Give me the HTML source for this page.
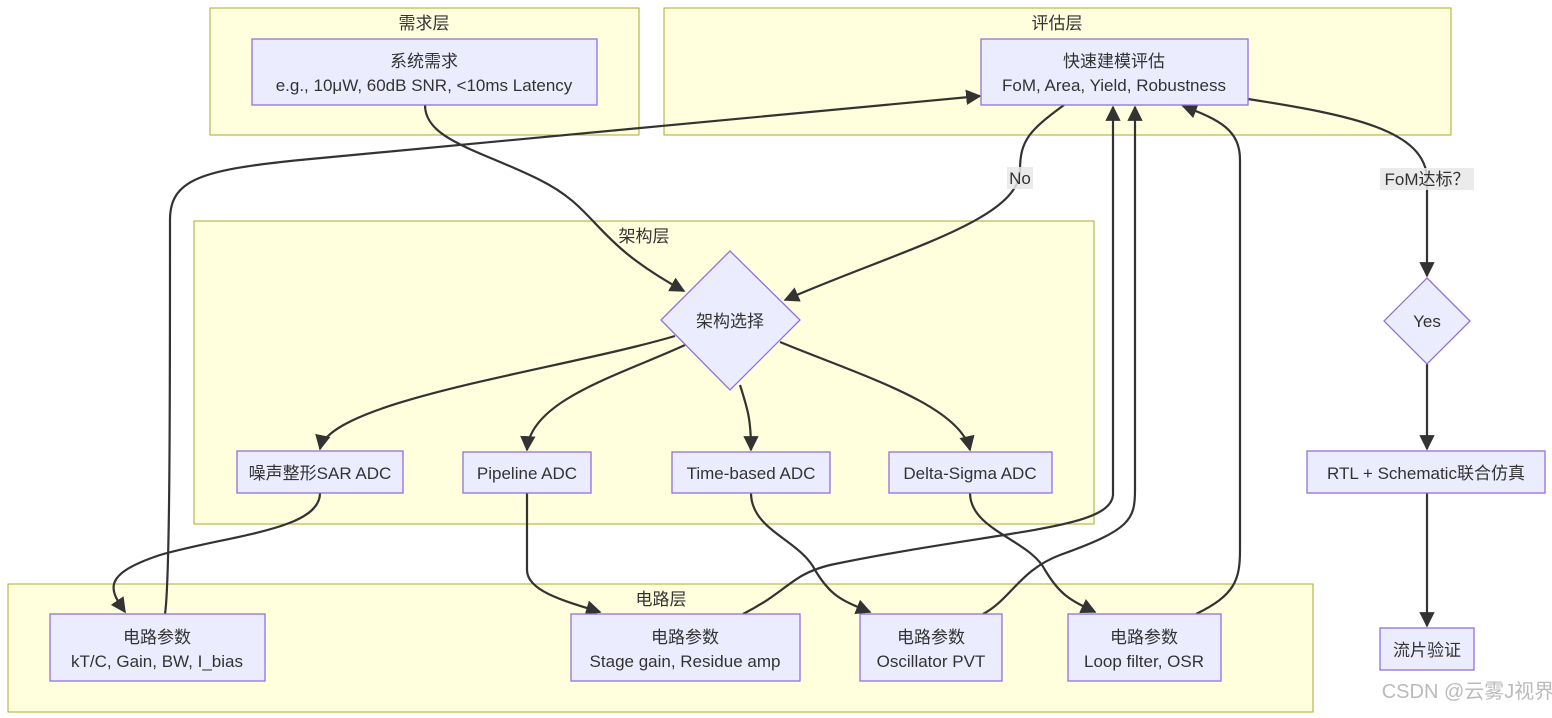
<!DOCTYPE html>
<html><head><meta charset="utf-8"><style>
html,body{margin:0;padding:0;background:#fff;}
svg{display:block;font-family:"Liberation Sans","Noto Sans CJK SC",sans-serif;}
text{fill:#333;font-size:17px;text-anchor:middle;}
.c{fill:#ffffde;stroke:#aaaa33;stroke-width:1;}
.n{fill:#ececff;stroke:#9370db;stroke-width:1.3;}
.e{fill:none;stroke:#333;stroke-width:2.2;}
</style></head><body>
<svg width="1552" height="718" viewBox="0 0 1552 718">
<defs><marker id="a" viewBox="0 0 10 10" refX="9" refY="5" markerWidth="7" markerHeight="7" orient="auto"><path d="M0,0L10,5L0,10z" fill="#333"/></marker></defs>
<rect class="c" x="210" y="8" width="429" height="127"/>
<rect class="c" x="664" y="8" width="787" height="127"/>
<rect class="c" x="194" y="221" width="900" height="303"/>
<rect class="c" x="8" y="584" width="1305" height="128"/>
<text x="424" y="29">需求层</text>
<text x="1057" y="29">评估层</text>
<text x="644" y="242">架构层</text>
<text x="661" y="605">电路层</text>

<g class="e">
<path d="M425,105 C425,140 480,150 540,180 C600,210 590,240 684,291" marker-end="url(#a)"/>
<path d="M1064,105 C1030,130 1020,140 1020,170 C1020,220 900,250 785,300" marker-end="url(#a)"/>
<path d="M1248,99 C1350,115 1427,130 1427,180 L1427,276" marker-end="url(#a)"/>
<path d="M1427,364 L1427,449" marker-end="url(#a)"/>
<path d="M1427,493 L1427,626" marker-end="url(#a)"/>
<path d="M675,336 C560,370 330,400 320,449" marker-end="url(#a)"/>
<path d="M685,345 C620,375 530,400 527,450" marker-end="url(#a)"/>
<path d="M740,385 C748,410 751,420 751,450" marker-end="url(#a)"/>
<path d="M780,342 C860,375 960,405 970,450" marker-end="url(#a)"/>
<path d="M320,493 C320,530 230,535 160,555 C100,575 110,590 125,612" marker-end="url(#a)"/>
<path d="M527,493 L527,570 C527,590 560,600 600,612" marker-end="url(#a)"/>
<path d="M751,493 C751,530 800,540 815,570 C830,595 840,600 870,612" marker-end="url(#a)"/>
<path d="M970,493 C970,530 1030,540 1045,570 C1060,595 1070,600 1095,612" marker-end="url(#a)"/>
<path d="M165,614 C170,580 170,400 170,220 C170,180 200,170 300,160 L980,96" marker-end="url(#a)"/>
<path d="M743,614 C790,590 790,575 830,565 C1000,530 1110,530 1113,495 L1113,107" marker-end="url(#a)"/>
<path d="M983,614 C1010,600 1020,570 1060,555 C1130,530 1135,520 1135,490 L1135,107" marker-end="url(#a)"/>
<path d="M1196,614 C1235,595 1240,580 1240,550 L1240,160 C1240,130 1220,120 1183,106" marker-end="url(#a)"/>
</g>

<rect x="1007" y="167" width="26" height="22" fill="#e8e8e8" opacity="0.85"/>
<text x="1020" y="184">No</text>
<rect x="1380" y="168" width="94" height="22" fill="#e8e8e8" opacity="0.85"/>
<text x="1427" y="185">FoM达标？</text>

<rect class="n" x="252" y="39" width="345" height="66"/>
<text x="424" y="67">系统需求</text><text x="424" y="91">e.g., 10μW, 60dB SNR, &lt;10ms Latency</text>
<rect class="n" x="981" y="39" width="267" height="66"/>
<text x="1114" y="67">快速建模评估</text><text x="1114" y="91">FoM, Area, Yield, Robustness</text>
<polygon class="n" points="730,251 800,320 730,390 661,320"/>
<text x="730" y="327">架构选择</text>
<polygon class="n" points="1427,278 1470,321 1427,364 1384,321"/>
<text x="1427" y="327">Yes</text>
<rect class="n" x="237" y="451" width="166" height="42"/><text x="320" y="479">噪声整形SAR ADC</text>
<rect class="n" x="463" y="452" width="128" height="41"/><text x="527" y="479">Pipeline ADC</text>
<rect class="n" x="672" y="452" width="158" height="41"/><text x="751" y="479">Time-based ADC</text>
<rect class="n" x="889" y="452" width="163" height="41"/><text x="970" y="479">Delta-Sigma ADC</text>
<rect class="n" x="1307" y="451" width="238" height="42"/><text x="1426" y="479">RTL + Schematic联合仿真</text>
<rect class="n" x="1380" y="628" width="94" height="42"/><text x="1427" y="656">流片验证</text>
<rect class="n" x="50" y="614" width="215" height="67"/><text x="157" y="643">电路参数</text><text x="157" y="667">kT/C, Gain, BW, I_bias</text>
<rect class="n" x="571" y="614" width="229" height="67"/><text x="685" y="643">电路参数</text><text x="685" y="667">Stage gain, Residue amp</text>
<rect class="n" x="860" y="614" width="142" height="67"/><text x="931" y="643">电路参数</text><text x="931" y="667">Oscillator PVT</text>
<rect class="n" x="1068" y="614" width="153" height="67"/><text x="1144" y="643">电路参数</text><text x="1144" y="667">Loop filter, OSR</text>
<text x="1468" y="698" style="fill:#bbb;font-size:20px">CSDN @云雾J视界</text>
</svg>
</body></html>
